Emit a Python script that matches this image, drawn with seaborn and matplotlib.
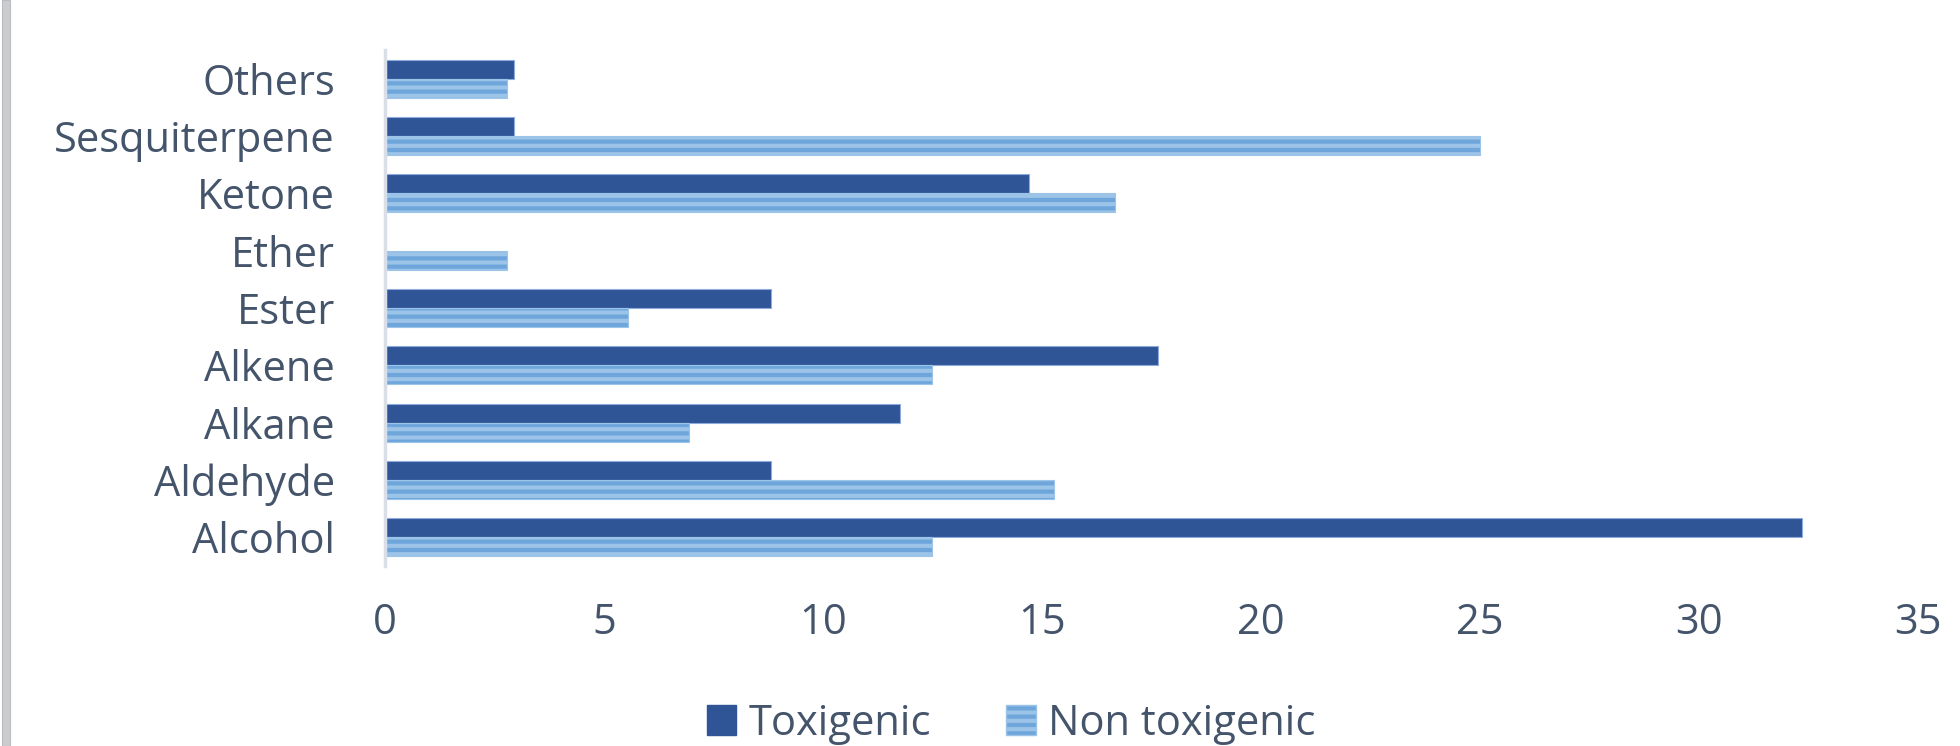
import matplotlib
matplotlib.use("Agg")
import matplotlib.pyplot as plt
import matplotlib.patches as mpatches
import seaborn as sns
import pandas as pd

# Share of volatile compounds (%) by chemical class
categories = ["Others", "Sesquiterpene", "Ketone", "Ether", "Ester",
              "Alkene", "Alkane", "Aldehyde", "Alcohol"]
toxigenic = [2.94, 2.94, 14.71, 0.0, 8.82, 17.65, 11.76, 8.82, 32.35]
non_toxigenic = [2.78, 25.0, 16.67, 2.78, 5.56, 12.5, 6.94, 15.28, 12.5]
series = ["Toxigenic", "Non toxigenic"]
x_ticks = [0, 5, 10, 15, 20, 25, 30, 35]

df = pd.DataFrame({
    "Class": categories * 2,
    "Percent": toxigenic + non_toxigenic,
    "Group": [series[0]] * len(categories) + [series[1]] * len(categories),
})

sns.set_theme(style="white")
plt.rcParams["font.family"] = ["Open Sans", "DejaVu Sans"]
plt.rcParams["hatch.linewidth"] = 3.0

text_color = "#44546A"
dark = "#2F5597"
light = "#6EA6DC"
fs = 30

fig = plt.figure(figsize=(19.6, 7.46), dpi=100)
ax = fig.add_axes([0.1964, 0.2413, 0.7822, 0.6917])

sns.barplot(data=df, x="Percent", y="Class", hue="Group", order=categories,
            hue_order=series, palette=[dark, light], width=0.66, gap=0,
            orient="h", ax=ax, legend=False, saturation=1)

for bar in ax.containers[0]:
    bar.set_edgecolor("#8FAADC")
    bar.set_linewidth(0.8)
for bar in ax.containers[1]:
    bar.set_edgecolor("#9CC3E8")
    bar.set_hatch("--")
    bar.set_linewidth(0.8)

ax.set_xlim(0, 35)
ax.set_ylim(8.5, -0.5)
ax.set_xticks(x_ticks)
ax.set_xticklabels([str(t) for t in x_ticks])
ax.set_xlabel("")
ax.set_ylabel("")

for side in ["top", "right", "bottom"]:
    ax.spines[side].set_visible(False)
ax.spines["left"].set_color("#D9DEE7")
ax.spines["left"].set_linewidth(2.5)

ax.tick_params(axis="both", length=0, labelsize=fs, colors=text_color)
ax.tick_params(axis="y", pad=36)
ax.tick_params(axis="x", pad=26)

handles = [
    mpatches.Patch(facecolor=dark, edgecolor=dark, label=series[0]),
    mpatches.Patch(facecolor=light, edgecolor="#9CC3E8", hatch="--", label=series[1]),
]
leg = fig.legend(handles=handles, loc="center", bbox_to_anchor=(0.516, 0.03),
                 ncol=2, frameon=False, fontsize=fs, handlelength=0.7,
                 handleheight=0.7, handletextpad=0.3, columnspacing=1.8)
for t in leg.get_texts():
    t.set_color(text_color)

# thin grey frame strip on the far left edge
fig.patches.append(mpatches.Rectangle((0.001, 0), 0.004, 1, transform=fig.transFigure,
                                      facecolor="#CCCCCC", edgecolor="#B8BCC4",
                                      linewidth=0.8, zorder=0))

fig.savefig("out.png", dpi=100)
